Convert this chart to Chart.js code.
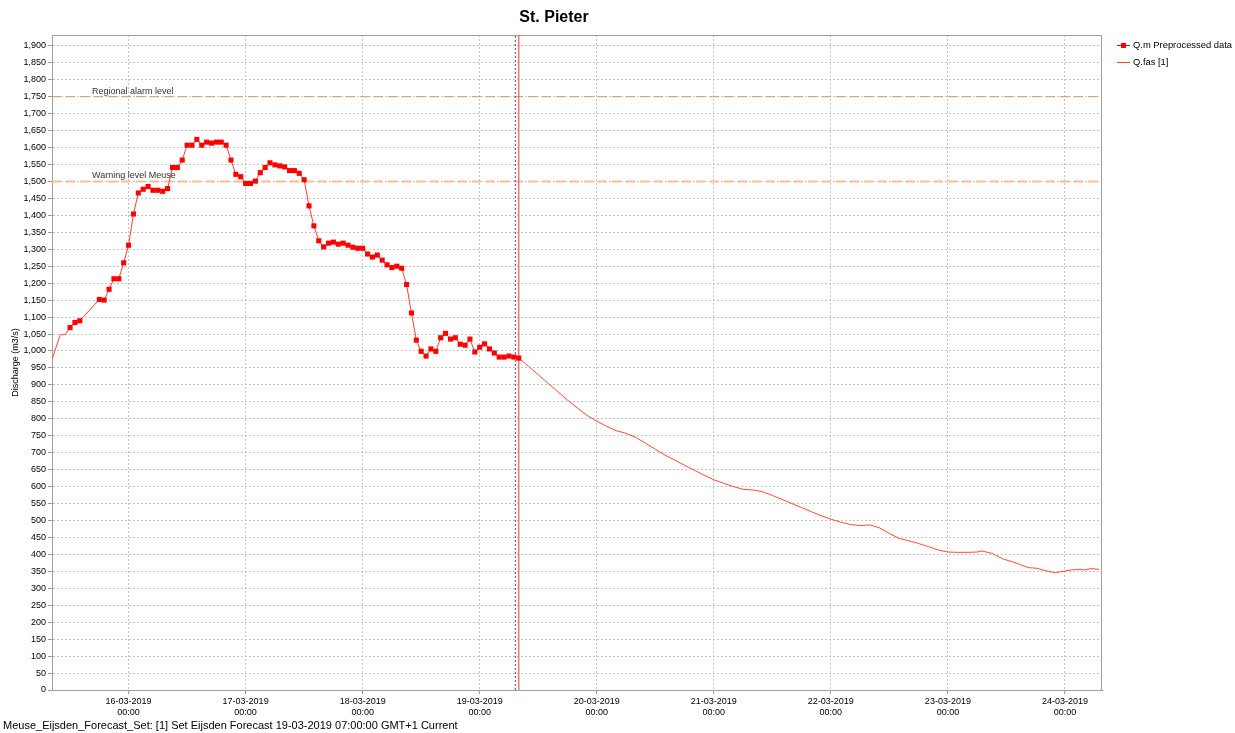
<!DOCTYPE html>
<html>
<head>
<meta charset="utf-8">
<script src="https://cdn.jsdelivr.net/npm/chart.js@4/dist/chart.umd.min.js"></script>
<style>
html,body{margin:0;padding:0;background:#fff;}
#wrap{position:relative;width:1235px;height:733px;}
#status{position:absolute;left:3px;top:719px;font:11px "Liberation Sans",Arial,sans-serif;color:#000;white-space:nowrap;}
</style>
</head>
<body>
<div id="wrap">
<canvas id="c" width="1235" height="733"></canvas>
<div id="status">Meuse_Eijsden_Forecast_Set: [1] Set Eijsden Forecast 19-03-2019 07:00:00 GMT+1 Current</div>
</div>
<script>
// Hours since 15-03-2019 00:00
const chartTitle = 'St. Pieter';
const seriesNames = ['Q.m Preprocessed data', 'Q.fas [1]'];

const obsHours = [12,13,14,18,19,20,21,22,23,
  24,25,26,27,28,29,30,31,32,33,34,35,36,37,38,39,40,41,42,43,44,45,46,47,
  48,49,50,51,52,53,54,55,56,57,58,59,60,61,62,63,64,65,66,67,68,69,70,71,
  72,73,74,75,76,77,78,79,80,81,82,83,84,85,86,87,88,89,90,91,92,93,94,95,
  96,97,98,99,100,101,102,103,104];
const obsValues = [1069,1084,1089,1152,1150,1182,1213,1213,1260,
  1312,1404,1466,1477,1485,1474,1474,1471,1479,1541,1541,1563,1607,1607,1624,1607,1616,1613,1616,1616,1607,1563,1521,1514,
  1494,1494,1501,1526,1541,1555,1549,1546,1543,1532,1532,1524,1505,1428,1369,1325,1307,1318,1321,1315,1318,1312,1306,1303,
  1303,1286,1277,1283,1268,1254,1246,1250,1244,1196,1112,1032,999,985,1006,999,1039,1052,1035,1039,1020,1017,1035,997,
  1011,1021,1006,994,982,982,985,982,979];

const fasHours = [8.3,10,11,12,50,
  104,106,108,110,112,114,116,118,120,122,124,126,128,130,132,134,136,138,140,142,144,146,148,150,152,154,156,158,160,
  162,164,166,168,170,172,174,176,178,180,182,184,186,188,190,192,194,196,198,199,201,203.4,205.5,208.5,210.2,212.3,
  214,216,217.1,219.1,220.1,221.2,223];
const fasValues = [975,1048,1048,1069,null,
  979,955,930,905,880,855,832,810,793,778,765,757,745,728,710,693,678,663,648,634,620,610,600,592,590,585,574,562,550,
  538,526,514,504,495,488,485,487,478,462,447,440,432,423,413,407,406,406,407,410,403,386,377,361,359,351,
  346,351,354,356,354,358,356];

const thresholdValues = [1750, 1500];
const thresholdLabels = ['Regional alarm level', 'Warning level Meuse'];
const forecastT0 = 103.3;   // 19-03-2019 07:00
const currentTime = 104;    // system time line

const xMin = 8.3, xMax = 223.6;
const yMin = 0, yMax = 1932;

const dayTicks = [24,48,72,96,120,144,168,192,216];
const dayLabels = [['16-03-2019','00:00'],['17-03-2019','00:00'],['18-03-2019','00:00'],['19-03-2019','00:00'],
  ['20-03-2019','00:00'],['21-03-2019','00:00'],['22-03-2019','00:00'],['23-03-2019','00:00'],['24-03-2019','00:00']];
const yTicks = [0,50,100,150,200,250,300,350,400,450,500,550,600,650,700,750,800,850,900,950,1000,
  1050,1100,1150,1200,1250,1300,1350,1400,1450,1500,1550,1600,1650,1700,1750,1800,1850,1900];

const tickFont = {family:"'Liberation Sans Narrow','Liberation Sans',Arial,sans-serif", size:9};

const obsData = obsHours.map((h,i)=>({x:h,y:obsValues[i]}));
const fasData = fasHours.map((h,i)=>({x:h,y:fasValues[i]}));

const decor = {
  id:'decor',
  beforeDatasetsDraw(chart){
    const {ctx, chartArea:a} = chart;
    ctx.save();
    ctx.strokeStyle = '#a0a0a0';
    ctx.lineWidth = 1;
    ctx.strokeRect(a.left+0.5, a.top+0.5, a.right-a.left-1, a.bottom-a.top);
    ctx.restore();
  },
  afterDraw(chart){
    const {ctx, chartArea:a, scales} = chart;
    ctx.save();
    // title
    ctx.fillStyle = '#000';
    ctx.font = "bold 16px 'Liberation Sans', Arial, sans-serif";
    ctx.textAlign = 'center';
    ctx.textBaseline = 'middle';
    ctx.fillText(chartTitle, 554, 18);
    // threshold labels
    ctx.font = "9px 'Liberation Sans', Arial, sans-serif";
    ctx.textAlign = 'left';
    ctx.textBaseline = 'bottom';
    ctx.fillStyle = '#333';
    thresholdValues.forEach((v,i)=>{
      const y = scales.y.getPixelForValue(v);
      ctx.fillText(thresholdLabels[i], 92, y-1);
    });
    // legend
    const lx = 1117;
    ctx.font = "9.4px 'Liberation Sans', Arial, sans-serif";
    ctx.textBaseline = 'middle';
    ctx.fillStyle = '#000';
    ctx.strokeStyle = '#ff0000';
    ctx.lineWidth = 1;
    ctx.beginPath(); ctx.moveTo(lx, 45.5); ctx.lineTo(lx+13, 45.5); ctx.stroke();
    ctx.fillStyle = '#ff0000';
    ctx.fillRect(lx+4, 43, 5, 5);
    ctx.fillStyle = '#000';
    ctx.fillText(seriesNames[0], lx+16, 45);
    ctx.strokeStyle = '#ff4030';
    ctx.beginPath(); ctx.moveTo(lx, 62.5); ctx.lineTo(lx+13, 62.5); ctx.stroke();
    ctx.fillText(seriesNames[1], lx+16, 62);
    ctx.restore();
  }
};

new Chart(document.getElementById('c'), {
  type:'line',
  data:{
    datasets:[
      {label:seriesNames[0], data:obsData, borderColor:'#ff3b3b', borderWidth:1, pointStyle:'rect',
       pointRadius:3.6, pointBackgroundColor:'#ff0000', pointBorderColor:'#ff0000', pointBorderWidth:0, tension:0},
      {label:seriesNames[1], data:fasData, borderColor:'#ff4a30', borderWidth:1, pointRadius:0, tension:0, spanGaps:false},
      {label:'now', data:[{x:currentTime,y:yMin},{x:currentTime,y:yMax}], borderColor:'rgba(240,90,90,0.8)', borderWidth:1.6, pointRadius:0},
      {label:'T0', data:[{x:forecastT0,y:yMin},{x:forecastT0,y:yMax}], borderColor:'#555', borderWidth:1, borderDash:[2,2], pointRadius:0},
      {label:'alarm', data:[{x:xMin,y:thresholdValues[0]},{x:xMax,y:thresholdValues[0]}], borderColor:'rgb(214,150,112)', borderWidth:1, borderDash:[9,5], pointRadius:0},
      {label:'warning', data:[{x:xMin,y:thresholdValues[1]},{x:xMax,y:thresholdValues[1]}], borderColor:'rgb(250,190,145)', borderWidth:2, borderDash:[9,5], pointRadius:0}
    ]
  },
  options:{
    responsive:false,
    animation:false,
    events:[],
    layout:{padding:{left:0, right:133, top:35, bottom:0}},
    plugins:{legend:{display:false}, tooltip:{enabled:false}, title:{display:false}},
    scales:{
      x:{
        type:'linear', min:xMin, max:xMax,
        afterBuildTicks(axis){ axis.ticks = dayTicks.map(v=>({value:v})); },
        afterFit(axis){ axis.height = 43; },
        grid:{color:'#c4c4c4', lineWidth:1, drawTicks:true, tickLength:4, tickColor:'#999', tickBorderDash:[]},
        border:{display:true, color:'#909090', dash:[2,2]},
        ticks:{autoSkip:false, maxRotation:0, padding:2, color:'#000', font:tickFont,
          callback(v){ const i = dayTicks.indexOf(v); return i>=0 ? dayLabels[i] : ''; }}
      },
      y:{
        type:'linear', min:yMin, max:yMax,
        afterBuildTicks(axis){ axis.ticks = yTicks.map(v=>({value:v})); },
        afterFit(axis){ axis.width = 52; },
        grid:{color:'#c4c4c4', lineWidth:1, drawTicks:true, tickLength:4, tickColor:'#999', tickBorderDash:[]},
        border:{display:true, color:'#909090', dash:[2,2]},
        title:{display:true, text:'Discharge (m3/s)', color:'#000', font:{family:"'Liberation Sans',Arial,sans-serif", size:9}, padding:{top:10,bottom:0}},
        ticks:{autoSkip:false, padding:2, color:'#000', font:tickFont,
          callback(v){ return v.toLocaleString('en-US'); }}
      }
    }
  },
  plugins:[decor]
});
</script>
</body>
</html>
